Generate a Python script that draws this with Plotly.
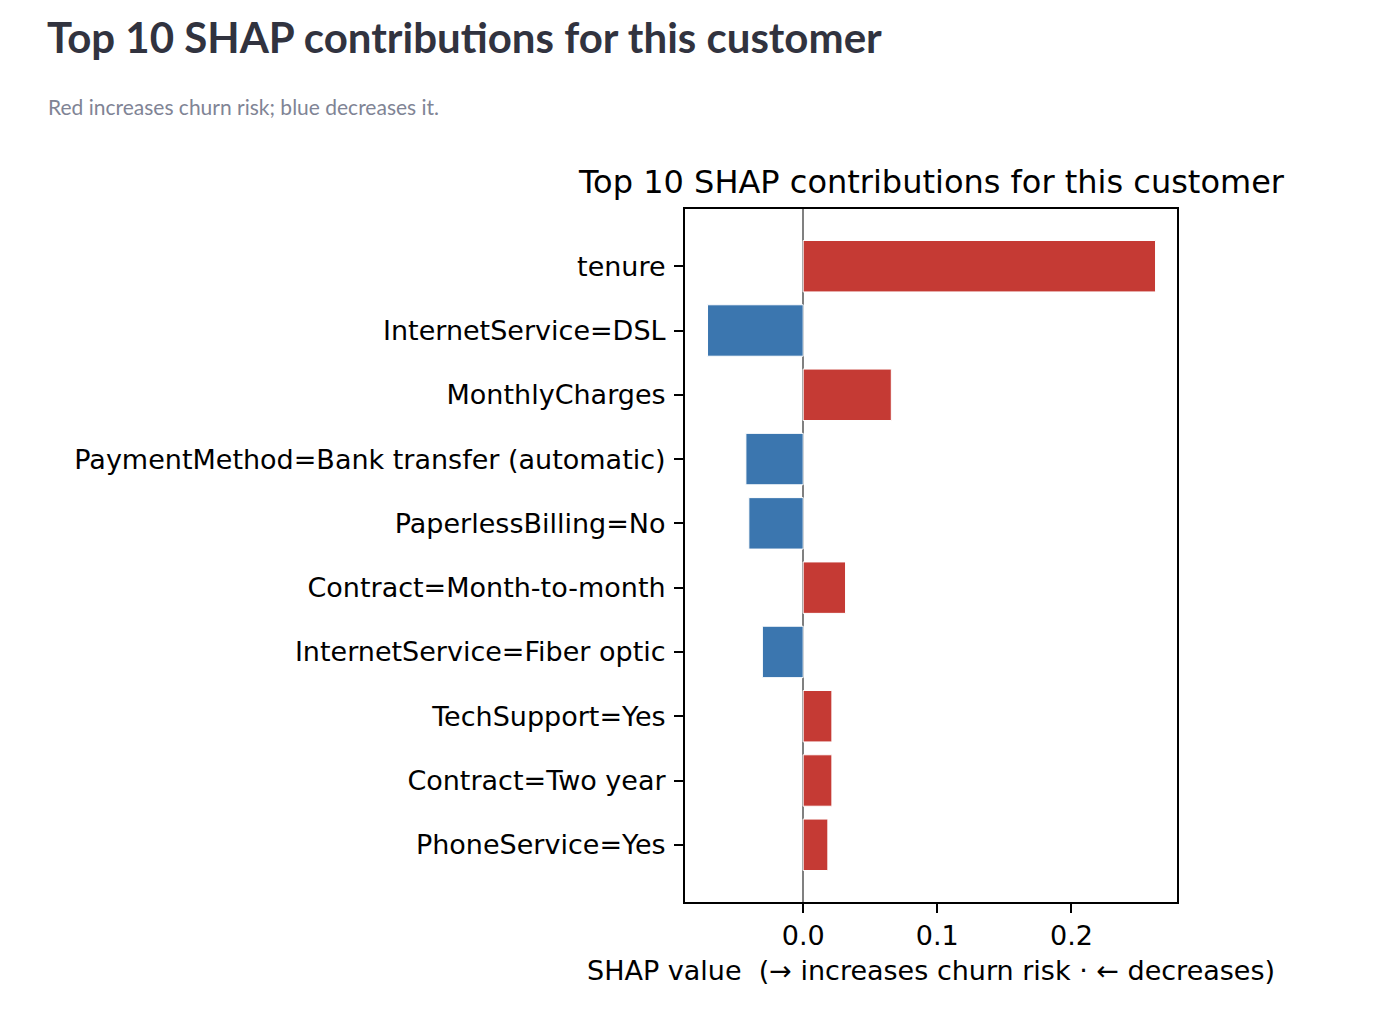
import plotly.graph_objects as go

# feature contributions, top to bottom as shown
features = [
    "tenure",
    "InternetService=DSL",
    "MonthlyCharges",
    "PaymentMethod=Bank transfer (automatic)",
    "PaperlessBilling=No",
    "Contract=Month-to-month",
    "InternetService=Fiber optic",
    "TechSupport=Yes",
    "Contract=Two year",
    "PhoneService=Yes",
]
shap_values = [0.2627, -0.0713, 0.0657, -0.0427, -0.0405,
               0.0316, -0.0304, 0.0214, 0.0214, 0.0184]
x_ticks = [0.0, 0.1, 0.2]
x_tick_labels = ["0.0", "0.1", "0.2"]

RED = "#c53a34"
BLUE = "#3b76af"

# page offset of the plotly div (body margin) and figure size
OFF = 8
W, H = 1384, 1014


def px(x):
    return (x - OFF) / W


def py(y):
    return 1 - (y - OFF) / H


colors = [RED if v > 0 else BLUE for v in shap_values]

fig = go.Figure()
fig.add_trace(go.Bar(
    x=shap_values, y=features, orientation="h", width=0.8,
    marker=dict(color=colors, line=dict(color="white", width=1)),
    hoverinfo="x+y",
))

mpl_font = "DejaVu Sans"
tick_size = 27

fig.update_layout(
    width=W, height=H,
    margin=dict(l=0, r=0, t=0, b=0),
    paper_bgcolor="white", plot_bgcolor="white",
    showlegend=False,
    font=dict(family=mpl_font, color="black", size=tick_size),
    xaxis=dict(
        domain=[px(685), px(1177)],
        range=[-0.0881, 0.2787],
        tickvals=x_ticks, ticktext=x_tick_labels,
        ticks="outside", ticklen=9, tickwidth=2, tickcolor="black",
        ticklabelstandoff=0,
        showline=True, linecolor="black", linewidth=2, mirror=True,
        showgrid=False,
        zeroline=True, zerolinecolor="gray", zerolinewidth=1.5,
        tickfont=dict(family=mpl_font, size=tick_size, color="black"),
    ),
    yaxis=dict(
        domain=[py(902), py(209)],
        categoryorder="array", categoryarray=features,
        range=[9.89, -0.89],
        ticks="outside", ticklen=9, tickwidth=2, tickcolor="black",
        ticklabelstandoff=3,
        showline=True, linecolor="black", linewidth=2, mirror=True,
        showgrid=False,
        tickfont=dict(family=mpl_font, size=tick_size, color="black"),
    ),
)

# streamlit header + caption
fig.add_annotation(
    text="<b>Top 10 SHAP contributions for this customer</b>",
    xref="paper", yref="paper", x=px(45), y=py(37),
    xanchor="left", yanchor="middle", showarrow=False,
    font=dict(family="Lato", size=42, color="#31333f"),
)
fig.add_annotation(
    text="Red increases churn risk; blue decreases it.",
    xref="paper", yref="paper", x=px(46), y=py(106),
    xanchor="left", yanchor="middle", showarrow=False,
    font=dict(family="Lato", size=21, color="#808495"),
)

# matplotlib-style title and x label
fig.add_annotation(
    text="Top 10 SHAP contributions for this customer",
    xref="paper", yref="paper", x=px(931), y=py(182),
    xanchor="center", yanchor="middle", showarrow=False,
    font=dict(family=mpl_font, size=32, color="black"),
)
fig.add_annotation(
    text="SHAP value  (→ increases churn risk · ← decreases)",
    xref="paper", yref="paper", x=px(931), y=py(970),
    xanchor="center", yanchor="middle", showarrow=False,
    font=dict(family=mpl_font, size=tick_size, color="black"),
)

fig.write_html("out.html")
